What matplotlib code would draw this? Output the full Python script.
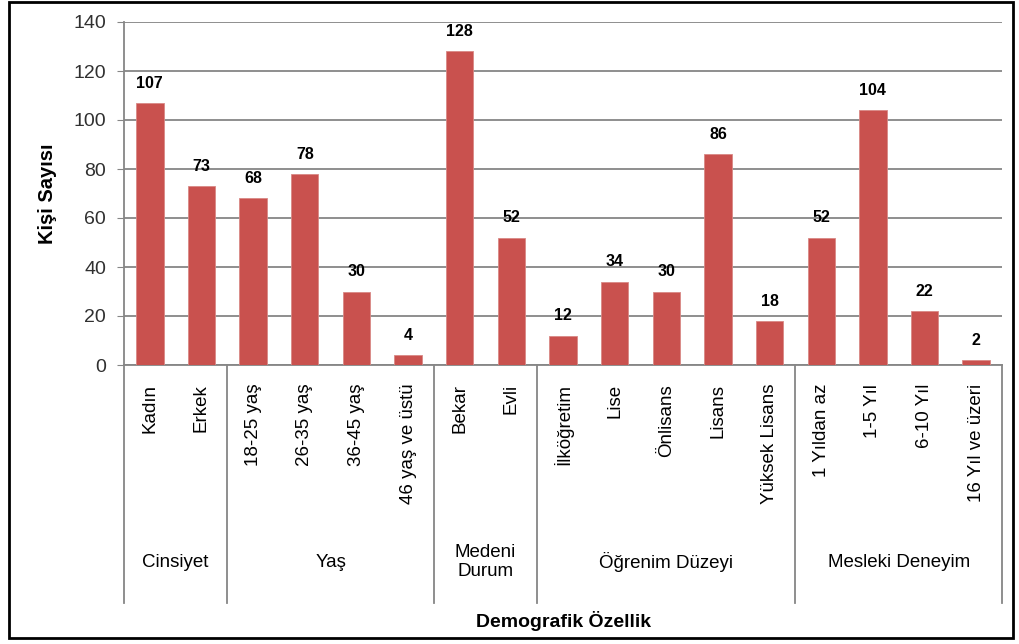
import matplotlib.pyplot as plt
from matplotlib.patches import Rectangle
import matplotlib.transforms as mtransforms

plt.rcParams['font.family'] = ['Liberation Sans', 'DejaVu Sans']

categories = ['Kadın', 'Erkek',
              '18-25 yaş', '26-35 yaş', '36-45 yaş', '46 yaş ve üstü',
              'Bekar', 'Evli',
              'İlköğretim', 'Lise', 'Önlisans', 'Lisans', 'Yüksek Lisans',
              '1 Yıldan az', '1-5 Yıl', '6-10 Yıl', '16 Yıl ve üzeri']
values = [107, 73, 68, 78, 30, 4, 128, 52, 12, 34, 30, 86, 18, 52, 104, 22, 2]
groups = ['Cinsiyet', 'Yaş', 'Medeni\nDurum', 'Öğrenim Düzeyi', 'Mesleki Deneyim']
group_sizes = [2, 4, 2, 5, 4]

fig = plt.figure(figsize=(10.19, 6.44), dpi=100)
ax = fig.add_axes([124 / 1019, 1 - 365 / 644, 878 / 1019, 343 / 644])

x = list(range(len(values)))
ax.bar(x, values, width=0.53, color='#C9514E', edgecolor='#D98885', linewidth=0.6, zorder=3)
for xi, v in zip(x, values):
    ax.text(xi, v + 5, str(v), ha='center', va='bottom', fontsize=11.5, fontweight='bold')

ax.set_xlim(-0.5, len(values) - 0.5)
ax.set_ylim(0, 140)
ax.set_yticks(range(0, 141, 20))
ax.tick_params(axis='y', labelsize=14, length=5, color='#868686', pad=8)
ax.tick_params(axis='y', labelcolor='#303030')
ax.set_xticks([])
ax.yaxis.grid(True, color='#868686', linewidth=1.3, zorder=0)
for s in ['top', 'right']:
    ax.spines[s].set_visible(False)
ax.spines['left'].set_color('#868686')
ax.spines['bottom'].set_color('#868686')
ax.spines['left'].set_linewidth(1.3)
ax.spines['bottom'].set_linewidth(1.3)

trans = mtransforms.blended_transform_factory(ax.transData, ax.transAxes)
for xi, c in zip(x, categories):
    ax.text(xi, -0.055, c, rotation=90, ha='center', va='top', fontsize=13.5, transform=trans)

start = 0
bounds = [-0.5]
for g, n in zip(groups, group_sizes):
    center = start + (n - 1) / 2
    ax.text(center, -0.575, g, ha='center', va='center', fontsize=13.5, transform=trans,
            linespacing=1.15)
    start += n
    bounds.append(start - 0.5)
for b in bounds:
    ax.plot([b, b], [0, -0.694], color='#868686', linewidth=1.3, transform=trans, clip_on=False)

ax.text(0.5, -0.746, 'Demografik Özellik', ha='center', va='center', fontsize=14,
        fontweight='bold', transform=ax.transAxes)
ax.set_ylabel('Kişi Sayısı', fontsize=14.5, fontweight='bold', labelpad=12)

fig.patches.append(Rectangle((9 / 1019, 6 / 644), 1004 / 1019, 636 / 644,
                             transform=fig.transFigure, fill=False, edgecolor='black',
                             linewidth=2))

fig.savefig('out.png', dpi=100)
